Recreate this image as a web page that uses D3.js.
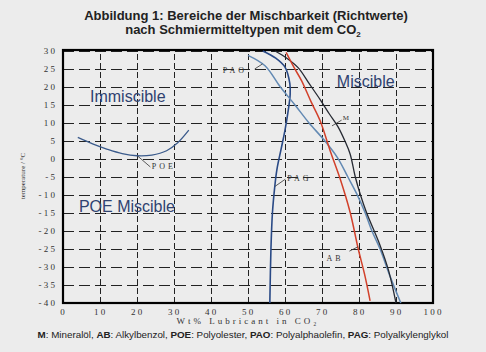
<!DOCTYPE html>
<html>
<head>
<meta charset="utf-8">
<script src="https://cdn.jsdelivr.net/npm/d3@7"></script>
<style>
  body { margin: 0; background: #ececec; }
  svg { display: block; font-family: "Liberation Sans", Arial, sans-serif; }
  .tick text { font-family: "Liberation Serif", "Times New Roman", serif; font-size: 9px; fill: #333; }
  .grid .domain { display: none; }
</style>
</head>
<body>
<div id="chart"></div>
<script>
var W = 486, H = 352;

// ticks
var xTicks = [0, 10, 20, 30, 40, 50, 60, 70, 80, 90, 100];
var yTicks = [30, 25, 20, 15, 10, 5, 0, -5, -10, -15, -20, -25, -30, -35, -40];

// curves: [wt% lubricant, temperature]
var poe = [[4, 6], [8, 4.2], [12, 2.7], [16, 1.5], [20, 0.9], [24, 1.1], [28, 2.3], [31, 4.5], [34, 8]];
var pao = [[50, 28.8], [54.6, 25.9], [58.6, 20.2], [62.7, 15], [66.5, 10], [70.8, 5], [74.3, 0.2], [77, -5], [79.4, -9.7], [81.6, -14.8], [83.5, -20], [85.7, -25], [88.4, -32.6], [91.3, -40]];
var mineral = [[57.3, 30], [60.5, 28], [63.6, 25.3], [66.5, 21], [69.5, 16.5], [72, 12.5], [74.3, 9], [76.2, 5], [77.6, 1.4], [79, -5], [80.4, -10], [82, -14.8], [85.7, -24], [88, -31], [90, -40]];
var alkylbenzol = [[60.3, 29.6], [62.4, 25.5], [64.5, 21.7], [67, 16], [69.5, 10.6], [72.2, 2.3], [74.9, -5.5], [77.6, -14.8], [79.8, -25], [81.5, -32], [83, -39.4]];
var pag = [[54, 30], [57.5, 28], [60, 25.5], [61.3, 21], [61.4, 18], [60.8, 13], [60, 8], [59, 3], [57.8, -3], [57.2, -8], [56.6, -15], [56.2, -25], [55.9, -40]];

var margin = {left: 63, right: 53, top: 51, bottom: 49};
var width = W - margin.left - margin.right,
    height = H - margin.top - margin.bottom;

var svg = d3.select("#chart").append("svg")
  .attr("width", W)
  .attr("height", H);

svg.append("rect").attr("width", W).attr("height", H).attr("fill", "#ececec");

var x = d3.scaleLinear().domain([0, 100]).range([margin.left, margin.left + width]);
var y = d3.scaleLinear().domain([-40, 30]).range([margin.top + height, margin.top]);

// title
var title = svg.append("text")
  .attr("text-anchor", "middle")
  .attr("font-weight", "bold")
  .attr("font-size", "13px")
  .attr("fill", "#222");
title.append("tspan").attr("x", 246).attr("y", 20).text("Abbildung 1: Bereiche der Mischbarkeit (Richtwerte)");
var t2 = title.append("tspan").attr("x", 243).attr("y", 33.5).text("nach Schmiermitteltypen mit dem CO");
t2.append("tspan").attr("font-size", "8px").attr("dy", 3).text("2");

// grid
svg.append("g")
  .attr("class", "grid")
  .attr("transform", "translate(0," + (margin.top + height) + ")")
  .call(d3.axisBottom(x).tickValues(xTicks).tickSize(-height).tickFormat(function(d){ return String(d).split("").join(" "); }))
  .call(function(g){
    g.selectAll(".tick line").attr("stroke", "#222").attr("stroke-dasharray", "6,3");
    g.selectAll(".tick text").attr("dy", "0.95em").attr("dx", "-1px");
  });

svg.append("g")
  .attr("class", "grid")
  .attr("transform", "translate(" + margin.left + ",0)")
  .call(d3.axisLeft(y).tickValues(yTicks).tickSize(-width).tickPadding(8).tickFormat(function(d){ return String(d).split("").join(" "); }))
  .call(function(g){
    g.selectAll(".tick line").attr("stroke", "#222").attr("stroke-dasharray", "11,5");
  });

// frame
svg.append("rect")
  .attr("x", margin.left).attr("y", margin.top - 1)
  .attr("width", width).attr("height", height + 1)
  .attr("fill", "none").attr("stroke", "#000").attr("stroke-width", 2.2);

// axis titles
svg.append("text")
  .attr("x", x(50)).attr("y", 324)
  .attr("text-anchor", "middle")
  .attr("font-family", "Liberation Serif, serif")
  .attr("font-size", "9px").attr("fill", "#333")
  .attr("letter-spacing", "3px")
  .text("Wt% Lubricant in CO₂");

svg.append("text")
  .attr("transform", "translate(25,176) rotate(-90)")
  .attr("text-anchor", "middle")
  .attr("font-family", "Liberation Serif, serif")
  .attr("font-size", "7px").attr("fill", "#333")
  .text("temperature / °C");

// curves
var line = d3.line()
  .x(function(d){ return x(d[0]); })
  .y(function(d){ return y(d[1]); })
  .curve(d3.curveCatmullRom);

var plot = svg.append("g");
plot.append("path").datum(poe).attr("d", line).attr("fill", "none").attr("stroke", "#3b5b8c").attr("stroke-width", 1.3);
plot.append("path").datum(pag).attr("d", line).attr("fill", "none").attr("stroke", "#2a4a86").attr("stroke-width", 1.6);
plot.append("path").datum(pao).attr("d", line).attr("fill", "none").attr("stroke", "#6289b3").attr("stroke-width", 1.5);
plot.append("path").datum(mineral).attr("d", line).attr("fill", "none").attr("stroke", "#262a33").attr("stroke-width", 1.3);
plot.append("path").datum(alkylbenzol).attr("d", line).attr("fill", "none").attr("stroke", "#d2402a").attr("stroke-width", 1.5);

// curve labels with leaders
var curveLabels = [
  {text: "POE", tx: 24, ty: -2.8, from: [20.2, 0.8], to: [23.6, -2.2]},
  {text: "PAO", tx: 43.2, ty: 24, from: [51.8, 25], to: [53.9, 26.4]},
  {text: "PAG", tx: 60.6, ty: -6.2, from: [57.3, -7.6], to: [60.1, -5.6]},
  {text: "M", tx: 75.6, ty: 10.9, from: [72.7, 9.2], to: [75.3, 10.8]},
  {text: "AB", tx: 71.2, ty: -28.3, from: [77.4, -25.6], to: [79.7, -24.4]}
];
curveLabels.forEach(function(c){
  plot.append("line")
    .attr("x1", x(c.from[0])).attr("y1", y(c.from[1]))
    .attr("x2", x(c.to[0])).attr("y2", y(c.to[1]))
    .attr("stroke", "#333").attr("stroke-width", 0.8);
  plot.append("text")
    .attr("x", x(c.tx)).attr("y", y(c.ty))
    .attr("font-family", "Liberation Serif, serif")
    .attr("font-size", c.text == "M" ? "7px" : "8px")
    .attr("letter-spacing", "3px")
    .attr("fill", "#333")
    .text(c.text);
});

// region labels
var regions = [
  {text: "Immiscible", tx: 7.3, ty: 15.8},
  {text: "POE Miscible", tx: 4.3, ty: -14.7},
  {text: "Miscible", tx: 74, ty: 19.9}
];
regions.forEach(function(r){
  plot.append("text")
    .attr("x", x(r.tx)).attr("y", y(r.ty))
    .attr("font-size", "16px")
    .attr("fill", "#2f4270")
    .text(r.text);
});

// footer
var foot = svg.append("text")
  .attr("x", 243).attr("y", 338)
  .attr("text-anchor", "middle")
  .attr("font-size", "9.8px")
  .attr("fill", "#222");
[["M", ": Mineralöl, "], ["AB", ": Alkylbenzol, "], ["POE", ": Polyolester, "], ["PAO", ": Polyalphaolefin, "], ["PAG", ": Polyalkylenglykol"]].forEach(function(p){
  foot.append("tspan").attr("font-weight", "bold").text(p[0]);
  foot.append("tspan").text(p[1]);
});
</script>
</body>
</html>
